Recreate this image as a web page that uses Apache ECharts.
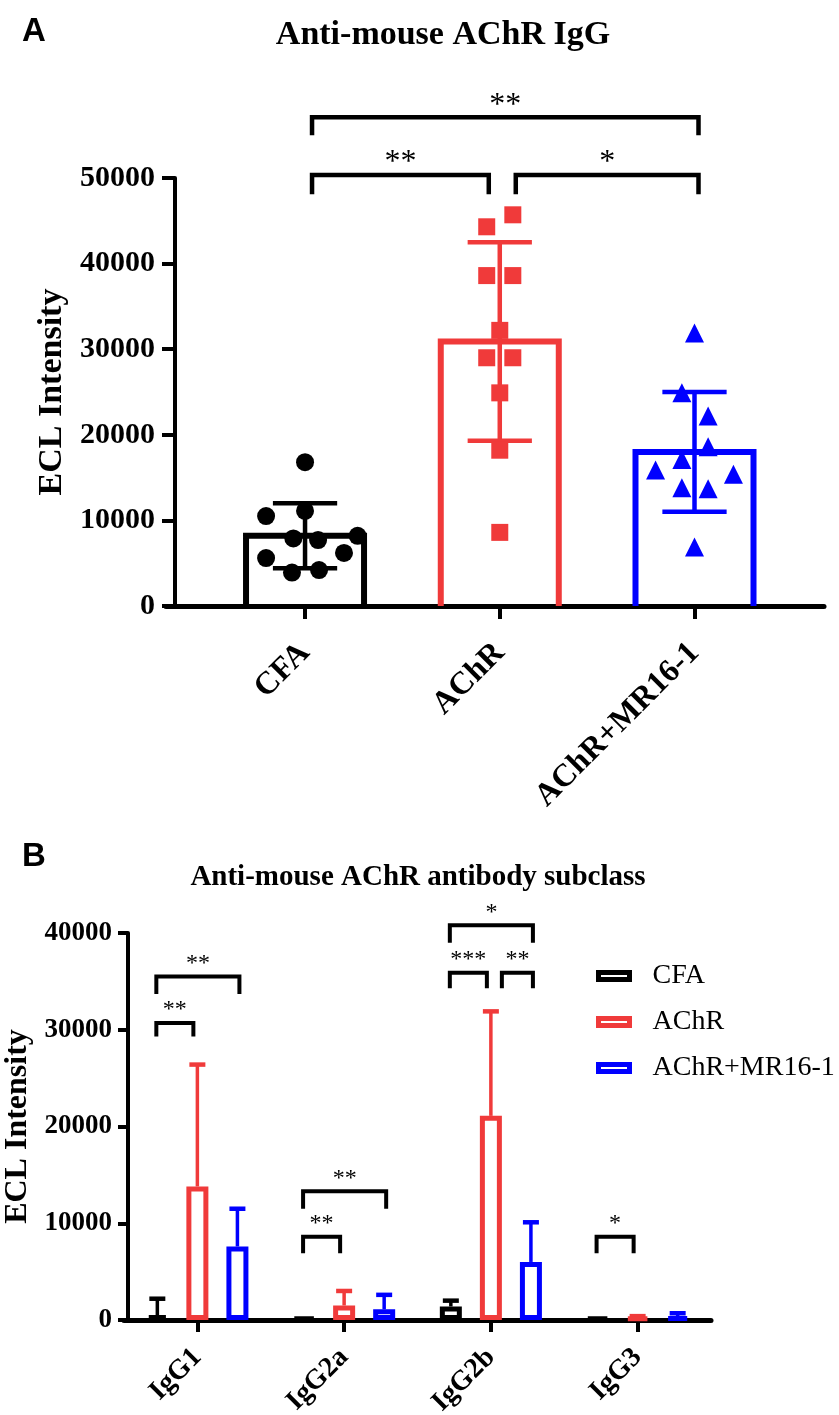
<!DOCTYPE html>
<html>
<head>
<meta charset="utf-8">
<script src="https://cdn.jsdelivr.net/npm/echarts@6/dist/echarts.min.js"></script>
<style>html,body{margin:0;padding:0;background:#fff;}#c{width:839px;height:1415px;}</style>
</head>
<body>
<div id="c"></div>
<script>
// ---------- Panel A data ----------
const groupsA = ['CFA', 'AChR', 'AChR+MR16-1'];
const meanA = [8200, 30900, 18000];
const sdA = [3800, 11600, 7000];
const pointsCFA = [16800, 10500, 11100, 7900, 7700, 8200, 5600, 6200, 3900, 4200];
const pointsAChR = [45700, 44300, 38600, 38600, 32200, 29000, 29000, 24900, 18200, 8600];
const pointsMR = [31900, 24900, 22200, 18600, 17100, 15900, 15400, 13800, 13700, 6900];
const ticksA = [0, 10000, 20000, 30000, 40000, 50000];
// significance: [fromGroup, toGroup, bracketValue, legEndValue]
const sigA = [[0, 2, 57100, 55000], [0, 1, 50350, 48100], [1, 2, 50350, 48100]];
const sigLabelsA = ['**', '**', '*'];

// ---------- Panel B data ----------
const subclasses = ['IgG1', 'IgG2a', 'IgG2b', 'IgG3'];
const meanCFA_B = [500, 250, 1400, 250];
const sdCFA_B = [1700, 0, 600, 0];
const meanAChR_B = [13800, 1500, 21100, 250];
const sdAChR_B = [12600, 1500, 10800, 150];
const meanMR_B = [7600, 1100, 6000, 300];
const sdMR_B = [3900, 1500, 4100, 400];
const ticksB = [0, 10000, 20000, 30000, 40000];
// significance: [subclass, fromGroup, toGroup, bracketValue, legEndValue]
const sigB = [[0, 0, 2, 35500, 33700], [0, 0, 1, 30700, 29300],
              [1, 0, 2, 13300, 11500], [1, 0, 1, 8600, 6900],
              [2, 0, 2, 40800, 39000], [2, 0, 1, 35900, 34300], [2, 1, 2, 35900, 34300],
              [3, 0, 1, 8600, 6900]];
const sigLabelsB = ['**', '**', '**', '**', '*', '***', '**', '*'];

// ---------- layout / style ----------
const COLORS = ['#000000', '#F03A3A', '#0000FF'];
const SERIF = '"Liberation Serif", "Times New Roman", serif';
// horizontal scatter spread of the dots (category units) — layout only
const swarm = [
  [0, -0.2, 0, -0.06, 0.067, 0.27, -0.2, 0.2, -0.067, 0.072],
  [0.067, -0.067, -0.067, 0.067, 0, -0.067, 0.067, 0, 0, 0],
  [0, -0.065, 0.07, 0.07, -0.065, -0.2, 0.2, -0.065, 0.07, 0]
];
const BAR_HALF_A = 0.303;
const CAP_HALF_A = 0.165;
const BAR_W_B = 22, BAR_GAP_B = 0.82;
const GROUP_STEP_B = BAR_W_B * (1 + BAR_GAP_B);

const chart = echarts.init(document.getElementById('c'), null, {renderer: 'canvas'});

const pointsAll = [pointsCFA, pointsAChR, pointsMR];
const symbolsA = ['circle', 'rect', 'triangle'];
const symbolSizesA = [18, 17, 19];

const seriesA = [];
seriesA.push({
  type: 'custom', name: 'barsA', xAxisIndex: 0, yAxisIndex: 0, z: 2,
  data: meanA.map((m, i) => [i, m]),
  renderItem: function (params, api) {
    const i = api.value(0), m = api.value(1);
    const p0 = api.coord([i - BAR_HALF_A, 0]);
    const p1 = api.coord([i + BAR_HALF_A, m]);
    return {
      type: 'polyline',
      shape: {points: [[p0[0], p0[1]], [p0[0], p1[1]], [p1[0], p1[1]], [p1[0], p0[1]]]},
      style: {stroke: COLORS[i], lineWidth: 6, fill: null, lineJoin: 'miter'}
    };
  }
});
seriesA.push({
  type: 'custom', name: 'errA', xAxisIndex: 0, yAxisIndex: 0, z: 3,
  data: meanA.map((m, i) => [i, m - sdA[i], m + sdA[i]]),
  renderItem: function (params, api) {
    const i = api.value(0);
    const lo = api.coord([i, api.value(1)]);
    const hi = api.coord([i, api.value(2)]);
    const l = api.coord([i - CAP_HALF_A, 0])[0], r = api.coord([i + CAP_HALF_A, 0])[0];
    const st = {stroke: COLORS[i], lineWidth: 4.5};
    return {type: 'group', children: [
      {type: 'line', shape: {x1: lo[0], y1: lo[1], x2: hi[0], y2: hi[1]}, style: st},
      {type: 'line', shape: {x1: l, y1: lo[1], x2: r, y2: lo[1]}, style: st},
      {type: 'line', shape: {x1: l, y1: hi[1], x2: r, y2: hi[1]}, style: st}
    ]};
  }
});
pointsAll.forEach((pts, g) => {
  seriesA.push({
    type: 'scatter', name: 'pts' + g, xAxisIndex: 0, yAxisIndex: 0, z: 4,
    symbol: symbolsA[g], symbolSize: symbolSizesA[g],
    itemStyle: {color: COLORS[g], opacity: 1},
    data: pts.map((v, k) => [g + swarm[g][k], v])
  });
});
seriesA.push({
  type: 'custom', name: 'sigA', xAxisIndex: 0, yAxisIndex: 0, z: 5, clip: false,
  data: sigA,
  renderItem: function (params, api) {
    const f = api.value(0), t = api.value(1);
    const y = api.coord([0, api.value(2)])[1];
    const yl = api.coord([0, api.value(3)])[1];
    const x1 = api.coord([f, 0])[0] + (f === 1 ? 16 : 7);
    const x2 = api.coord([t, 0])[0] + (t === 1 ? -11 : 4);
    return {type: 'group', children: [
      {type: 'polyline', shape: {points: [[x1, yl], [x1, y], [x2, y], [x2, yl]]},
       style: {stroke: '#000', lineWidth: 4.5, fill: null, lineJoin: 'miter'}},
      {type: 'text', x: (x1 + x2) / 2, y: y - 12,
       style: {text: sigLabelsA[params.dataIndex], fontSize: 32, fontFamily: SERIF, fill: '#000',
               align: 'center', verticalAlign: 'middle'}}
    ]};
  }
});

// ---------- Panel B series ----------
const meansB = [meanCFA_B, meanAChR_B, meanMR_B];
const sdsB = [sdCFA_B, sdAChR_B, sdMR_B];
const seriesB = [];
groupsA.forEach((name, g) => {
  seriesB.push({
    type: 'bar', name: name, xAxisIndex: 1, yAxisIndex: 1, z: 3,
    barWidth: BAR_W_B, barGap: (BAR_GAP_B * 100) + '%',
    itemStyle: {color: '#ffffff', borderColor: COLORS[g], borderWidth: 5},
    data: meansB[g]
  });
});
const errDataB = [];
meansB.forEach((arr, g) => arr.forEach((m, c) => errDataB.push([c, m, m + sdsB[g][c], g])));
seriesB.push({
  type: 'custom', name: 'errB', xAxisIndex: 1, yAxisIndex: 1, z: 2,
  data: errDataB,
  renderItem: function (params, api) {
    const c = api.value(0), g = api.value(3);
    if (api.value(2) <= api.value(1)) return null;
    const base = api.coord([c, api.value(1)]);
    const top = api.coord([c, api.value(2)]);
    const x = base[0] + (g - 1) * GROUP_STEP_B;
    const st = {stroke: COLORS[g], lineWidth: 3.5};
    return {type: 'group', children: [
      {type: 'line', shape: {x1: x, y1: base[1], x2: x, y2: top[1]}, style: st},
      {type: 'line', shape: {x1: x - 8, y1: top[1], x2: x + 8, y2: top[1]}, style: {stroke: COLORS[g], lineWidth: 4.5}}
    ]};
  }
});
seriesB.push({
  type: 'custom', name: 'sigB', xAxisIndex: 1, yAxisIndex: 1, z: 5, clip: false,
  data: sigB,
  renderItem: function (params, api) {
    const c = api.value(0), f = api.value(1), t = api.value(2);
    const cx = api.coord([c, 0])[0];
    const y = api.coord([c, api.value(3)])[1];
    const yl = api.coord([c, api.value(4)])[1];
    const x1 = cx + (f - 1) * GROUP_STEP_B + (f === 1 ? 11 : -1);
    const x2 = cx + (t - 1) * GROUP_STEP_B + (t === 1 ? -4 : 2);
    return {type: 'group', children: [
      {type: 'polyline', shape: {points: [[x1, yl], [x1, y], [x2, y], [x2, yl]]},
       style: {stroke: '#000', lineWidth: 4, fill: null, lineJoin: 'miter'}},
      {type: 'text', x: (x1 + x2) / 2, y: y - 13,
       style: {text: sigLabelsB[params.dataIndex], fontSize: 24, fontFamily: SERIF, fill: '#000',
               align: 'center', verticalAlign: 'middle'}}
    ]};
  }
});

const plain = v => String(v);

const option = {
  animation: false,
  backgroundColor: '#ffffff',
  graphic: [
    {type: 'text', x: 22, y: 15, style: {text: 'A', font: 'bold 33px "Liberation Sans", Arial, sans-serif', fill: '#000'}},
    {type: 'text', x: 443, y: 35, style: {text: 'Anti-mouse AChR IgG', font: 'bold 34px ' + SERIF, fill: '#000', align: 'center', verticalAlign: 'middle'}},
    {type: 'text', x: 22, y: 840, style: {text: 'B', font: 'bold 33px "Liberation Sans", Arial, sans-serif', fill: '#000'}},
    {type: 'text', x: 418, y: 878, style: {text: 'Anti-mouse AChR antibody subclass', font: 'bold 29px ' + SERIF, fill: '#000', align: 'center', verticalAlign: 'middle'}}
  ],
  legend: {
    data: groupsA, orient: 'vertical', left: 596, top: 962, padding: 0,
    itemWidth: 31, itemHeight: 7, itemGap: 18, icon: 'rect',
    itemStyle: {borderWidth: 5},
    textStyle: {fontSize: 28, fontFamily: SERIF, color: '#000', lineHeight: 28, padding: [0, 0, 0, 18]},
    selectedMode: false
  },
  grid: [
    {left: 166, right: 15, top: 178, height: 428, containLabel: false, outerBoundsMode: 'none'},
    {left: 124, right: 128, top: 933, height: 387, containLabel: false, outerBoundsMode: 'none'}
  ],
  xAxis: [
    {type: 'value', gridIndex: 0, min: -0.714, max: 2.665,
     axisLine: {show: true, onZero: false, lineStyle: {color: '#000', width: 5}},
     axisTick: {show: true, customValues: [0, 1, 2], length: 13, lineStyle: {color: '#000', width: 4}},
     axisLabel: {show: true, customValues: [0, 1, 2], formatter: v => groupsA[Math.round(v)],
                 rotate: 45, margin: 42, fontSize: 32, fontWeight: 'bold', fontFamily: SERIF, color: '#000'},
     splitLine: {show: false}},
    {type: 'category', gridIndex: 1, data: subclasses, boundaryGap: true,
     axisLine: {show: true, onZero: false, lineStyle: {color: '#000', width: 5}},
     axisTick: {show: true, alignWithLabel: true, length: 12, lineStyle: {color: '#000', width: 4}},
     axisLabel: {rotate: 45, margin: 33, fontSize: 28, fontWeight: 'bold', fontFamily: SERIF, color: '#000'},
     splitLine: {show: false}}
  ],
  yAxis: [
    {type: 'value', gridIndex: 0, min: ticksA[0], max: ticksA[ticksA.length - 1], interval: ticksA[1] - ticksA[0], offset: -9,
     name: 'ECL Intensity', nameLocation: 'middle', nameGap: 104,
     nameTextStyle: {fontSize: 34, fontWeight: 'bold', fontFamily: SERIF, color: '#000'},
     axisLine: {show: true, onZero: false, lineStyle: {color: '#000', width: 4}},
     axisTick: {show: true, length: 13, lineStyle: {color: '#000', width: 4}},
     axisLabel: {margin: 20, fontSize: 30, fontWeight: 'bold', fontFamily: SERIF, color: '#000', formatter: plain},
     splitLine: {show: false}},
    {type: 'value', gridIndex: 1, min: ticksB[0], max: ticksB[ticksB.length - 1], interval: ticksB[1] - ticksB[0], offset: -4,
     name: 'ECL Intensity', nameLocation: 'middle', nameGap: 78,
     nameTextStyle: {fontSize: 32, fontWeight: 'bold', fontFamily: SERIF, color: '#000'},
     axisLine: {show: true, onZero: false, lineStyle: {color: '#000', width: 4}},
     axisTick: {show: true, length: 10, lineStyle: {color: '#000', width: 4}},
     axisLabel: {margin: 16, fontSize: 27, fontWeight: 'bold', fontFamily: SERIF, color: '#000', formatter: plain},
     splitLine: {show: false}}
  ],
  series: seriesA.concat(seriesB)
};
chart.setOption(option);
</script>
</body>
</html>
